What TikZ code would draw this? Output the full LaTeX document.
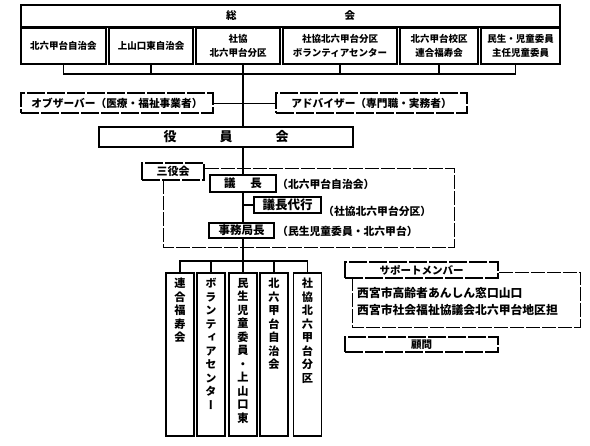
\documentclass[tikz,border=0pt]{standalone}
\usepackage{fontspec}
\setmainfont{Noto Sans CJK JP}
\newfontfamily\jpv{Noto Sans CJK JP}[RawFeature=+vert]
\begin{document}
\begin{tikzpicture}[x=1pt,y=-1pt,
  sbox/.style={draw, line width=1.8pt, fill=white, inner sep=0pt, align=center,
    font=\bfseries\fontsize{9.5}{14}\selectfont},
  dbox/.style={sbox, dash pattern=on 18pt off 2pt},
  encl/.style={line width=0.9pt, dash pattern=on 14pt off 2pt},
  conn/.style={line width=1.3pt},
  spine/.style={line width=1.9pt},
  lbl/.style={inner sep=0pt, anchor=west, font=\bfseries\fontsize{10.8}{12}\selectfont},
  vtxt/.style={inner sep=0pt, anchor=north, align=center,
    font=\jpv\bfseries\fontsize{11.2}{13.5}\selectfont}]
\useasboundingbox[fill=white] (0,0) rectangle (590,446);

% top
\node[sbox, line width=1.4pt, minimum width=539pt, minimum height=22pt,
  font=\bfseries\fontsize{10.5}{12}\selectfont] (sokai) at (290.5,16) {総\hspace{108pt}会};
\node[sbox, minimum width=85pt, minimum height=36pt] (b1) at (63.5,46) {北六甲台自治会};
\node[sbox, minimum width=84pt, minimum height=36pt] (b2) at (151,46) {上山口東自治会};
\node[sbox, minimum width=84pt, minimum height=36pt] (b3) at (238,46) {社協\\北六甲台分区};
\node[sbox, minimum width=114pt, minimum height=36pt] (b4) at (340,46) {社協北六甲台分区\\ボランティアセンター};
\node[sbox, minimum width=78pt, minimum height=36pt] (b5) at (439,46) {北六甲台校区\\連合福寿会};
\node[sbox, minimum width=79pt, minimum height=36pt] (b6) at (520.5,46) {民生・児童委員\\主任児童委員};

\coordinate (rowbar) at (0,74);
\coordinate (sp) at (243,0);
\draw[conn] (b1.south) |- ([xshift=-5pt]b6.south |- rowbar) -- ([xshift=-5pt]b6.south);
\foreach \n in {b2,b4,b5} \draw[conn] (\n.south) -- (\n.south |- rowbar);

% observer / advisor
\node[dbox, minimum width=192pt, minimum height=20pt,
  font=\bfseries\fontsize{10.7}{12}\selectfont] (obs) at (117,103) {オブザーバー（医療・福祉事業者）};
\node[dbox, minimum width=191pt, minimum height=20pt,
  font=\bfseries\fontsize{10.7}{12}\selectfont] (adv) at (371.5,103) {アドバイザー（専門職・実務者）};
\draw[line width=0.9pt] (obs.east) -- (adv.west);

% yakuinkai
\node[sbox, minimum width=254pt, minimum height=20pt,
  font=\bfseries\fontsize{13}{14}\selectfont] (yaku) at (226,137) {役\hspace{43pt}員\hspace{43pt}会};

% sanyakukai
\node[dbox, minimum width=62pt, minimum height=17pt,
  font=\bfseries\fontsize{11}{12}\selectfont] (sanyaku) at (173,171.5) {三役会};
\coordinate (encTR) at (454,168);
\coordinate (encBL) at (163,247);
\draw[encl] (sanyaku.east |- encTR) -- (encTR) |- (encBL) -- (encBL |- sanyaku.south);

\node[sbox, minimum width=66pt, minimum height=17pt,
  font=\bfseries\fontsize{11.5}{12}\selectfont] (gicho) at (243,183.5) {議\hspace{15pt}長};
\node[lbl] (l1) at (277,184.5) {（北六甲台自治会）};
\node[sbox, minimum width=67pt, minimum height=16pt,
  font=\bfseries\fontsize{12.5}{13}\selectfont] (dairi) at (287.5,205) {議長代行};
\node[lbl] (l2) at (323,211) {（社協北六甲台分区）};
\node[sbox, minimum width=65pt, minimum height=15pt,
  font=\bfseries\fontsize{11.5}{12}\selectfont] (jimu) at (241.5,230.5) {事務局長};
\node[lbl] (l3) at (277,231.5) {（民生児童委員・北六甲台）};

% spine
\coordinate (kbar) at (0,261);
\draw[spine] (b3.south -| sp) -- (yaku.north -| sp);
\draw[spine] (yaku.south -| sp) -- (gicho.north);
\draw[spine] (gicho.south) -- (jimu.north -| sp);
\draw[spine] (jimu.south -| sp) -- (sp |- kbar);
\draw[conn] (sp |- dairi.west) -- (dairi.west);

% children
\tikzset{vbox/.style={sbox, minimum width=28pt, minimum height=163pt}}
\node[vbox] (c1) at (180,354.5) {};
\node[vbox] (c2) at (211,354.5) {};
\node[vbox] (c3) at (243,354.5) {};
\node[vbox] (c4) at (274,354.5) {};
\node[vbox] (c5) at (307.5,354.5) {};
\node[vtxt] (t1) at ([yshift=-6pt]c1.north) {連\\合\\福\\寿\\会};
\node[vtxt] (t2) at ([yshift=-6pt]c2.north) {ボ\\ラ\\ン\\テ\\ィ\\ア\\セ\\ン\\タ\\ー};
\node[vtxt] (t3) at ([yshift=-6pt]c3.north) {民\\生\\児\\童\\委\\員\\・\\上\\山\\口\\東};
\node[vtxt] (t4) at ([yshift=-6pt]c4.north) {北\\六\\甲\\台\\自\\治\\会};
\node[vtxt] (t5) at ([yshift=-6pt]c5.north) {社\\協\\北\\六\\甲\\台\\分\\区};
\draw[conn] (c1.north) |- (c5.north |- kbar) -- (c5.north);
\foreach \n in {c2,c3,c4} \draw[conn] (\n.north) -- (\n.north |- kbar);

% support
\node[dbox, minimum width=153pt, minimum height=16pt,
  font=\bfseries\fontsize{10.5}{12}\selectfont] (support) at (421.5,270) {サポートメンバー};
\coordinate (supTR) at (580,272);
\coordinate (supBL) at (352,327);
\draw[encl] (support.east |- supTR) -- (supTR) |- (supBL) -- (supBL |- support.south);
\node[lbl, font=\bfseries\fontsize{11.8}{13}\selectfont] (s1) at (357,293) {西宮市高齢者あんしん窓口山口};
\node[lbl, font=\bfseries\fontsize{11.8}{13}\selectfont] (s2) at (357,310) {西宮市社会福祉協議会北六甲台地区担};

\node[dbox, minimum width=153pt, minimum height=15pt,
  font=\bfseries\fontsize{10.5}{12}\selectfont] (komon) at (421.5,344.5) {顧問};
\end{tikzpicture}
\end{document}
